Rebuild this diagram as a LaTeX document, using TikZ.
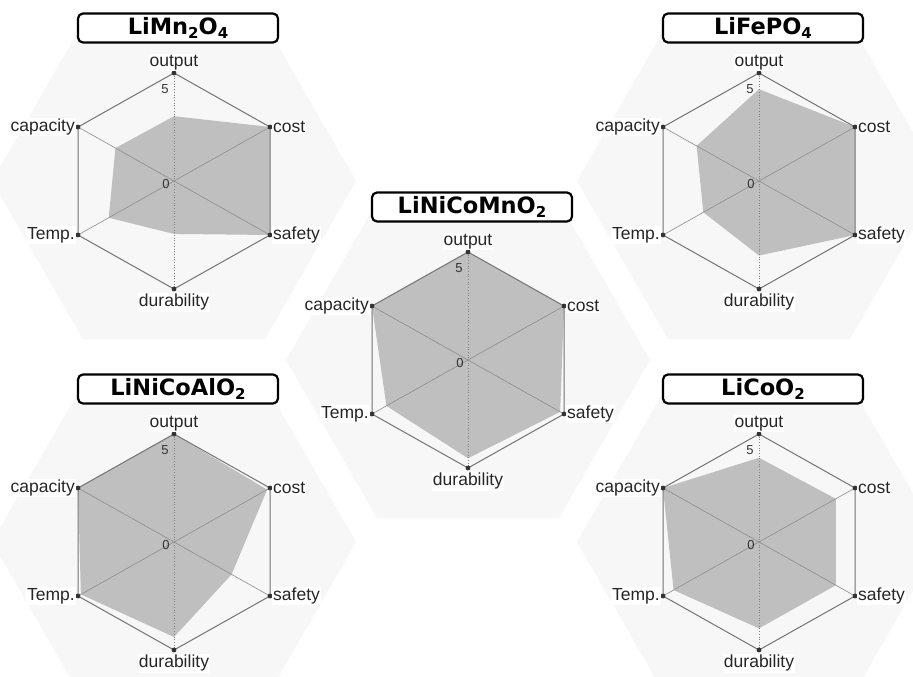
\documentclass[tikz,border=0pt]{standalone}
\usepackage{fontspec}
\setmainfont{Liberation Sans}
\newfontfamily\titlefont{DejaVu Sans}
\usetikzlibrary{calc}
\tikzset{
     hexbg/.style={fill=black!3},
     datafill/.style={fill=black!25},
     spoke/.style={draw=black!45, line width=0.6pt},
     midspoke/.style={draw=black!50, line width=0.7pt, dotted},
     rim/.style={draw=black!55, line width=1pt},
     vdot/.style={fill=black!80},
     axislabel/.style={fill=white, inner sep=1pt, text=black!85, font=\fontsize{17.5}{19}\selectfont},
     ticklabel/.style={inner sep=0pt, text=black!80, font=\fontsize{13}{13}\selectfont},
     titlebox/.style={draw=black, line width=2.2pt, rounded corners=5pt, fill=white,
       minimum width=200pt, minimum height=29pt, inner sep=0pt,
       font=\titlefont\bfseries\fontsize{22.5}{24}\selectfont}
     }
\newcommand{\chemsub}[1]{\raisebox{-0.35ex}{\fontsize{15}{15}\selectfont #1}}
% #1 name, #2 centre, #3 title, #4-#9 output, cost, safety, durability, Temp., capacity
\newcommand{\radarchart}[9]{%
  \begin{scope}[shift={#2}]
    % background hexagon
    \fill[hexbg] (182,0) -- (91,158) -- (-91,158) -- (-182,0) -- (-91,-158) -- (91,-158) -- cycle;
    % axis ends
    \coordinate (#1-z) at (0,0);
    \coordinate (#1-out) at (0,-108);
    \coordinate (#1-cost) at (96,-54);
    \coordinate (#1-saf) at (96,54);
    \coordinate (#1-dur) at (0,108);
    \coordinate (#1-temp) at (-96,54);
    \coordinate (#1-cap) at (-96,-54);
    % values
    \fill[datafill] ($(#1-z)!#4!(#1-out)$) -- ($(#1-z)!#5!(#1-cost)$) -- ($(#1-z)!#6!(#1-saf)$)
      -- ($(#1-z)!#7!(#1-dur)$) -- ($(#1-z)!#8!(#1-temp)$) -- ($(#1-z)!#9!(#1-cap)$) -- cycle;
    % spokes and rim
    \draw[midspoke] (#1-out) -- (#1-dur);
    \draw[spoke] (#1-cost) -- (#1-temp);
    \draw[spoke] (#1-cap) -- (#1-saf);
    \draw[rim] (#1-out) -- (#1-cost) -- (#1-saf) -- (#1-dur) -- (#1-temp) -- (#1-cap) -- cycle;
    \foreach \v in {out,cost,saf,dur,temp,cap}
      \fill[vdot] (#1-\v) circle (2.4pt);
    % labels
    \node[axislabel, anchor=south] (#1-lout) at ($(#1-out)+(0,-2)$) {output};
    \node[axislabel, anchor=west] (#1-lcost) at ($(#1-cost)+(2,0)$) {cost};
    \node[axislabel, anchor=west] (#1-lsaf) at ($(#1-saf)+(2,0)$) {safety};
    \node[axislabel, anchor=north] (#1-ldur) at ($(#1-dur)+(0,4)$) {durability};
    \node[axislabel, anchor=east] (#1-ltemp) at ($(#1-temp)+(-2,0)$) {Temp.};
    \node[axislabel, anchor=east] (#1-lcap) at ($(#1-cap)+(-2,0)$) {capacity};
    \node[ticklabel] (#1-five) at (-9,-92) {5};
    \node[ticklabel] (#1-zero) at (-8,3) {0};
    \node[titlebox] (#1-title) at (4,-153) {#3};
  \end{scope}}

\begin{document}
\begin{tikzpicture}[x=1pt, y=-1pt]
  \useasboundingbox (0,0) rectangle (913,677);
  \clip (0,0) rectangle (913,677);
  \fill[white] (0,0) rectangle (913,677);
  % Place charts
  \radarchart{mn}{(174,181)}{LiMn\chemsub{2}O\chemsub{4}}{0.6}{1}{1}{0.49}{0.68}{0.61}
  \radarchart{fe}{(759,181)}{LiFePO\chemsub{4}}{0.85}{1}{1}{0.69}{0.58}{0.65}
  \radarchart{al}{(174,542)}{LiNiCoAlO\chemsub{2}}{1}{0.97}{0.6}{0.88}{0.97}{1}
  \radarchart{co}{(759,542)}{LiCoO\chemsub{2}}{0.78}{0.8}{0.8}{0.8}{0.89}{1}
  \radarchart{nmc}{(468,360)}{LiNiCoMnO\chemsub{2}}{1}{1}{0.96}{0.91}{0.85}{1}
\end{tikzpicture}
\end{document}
